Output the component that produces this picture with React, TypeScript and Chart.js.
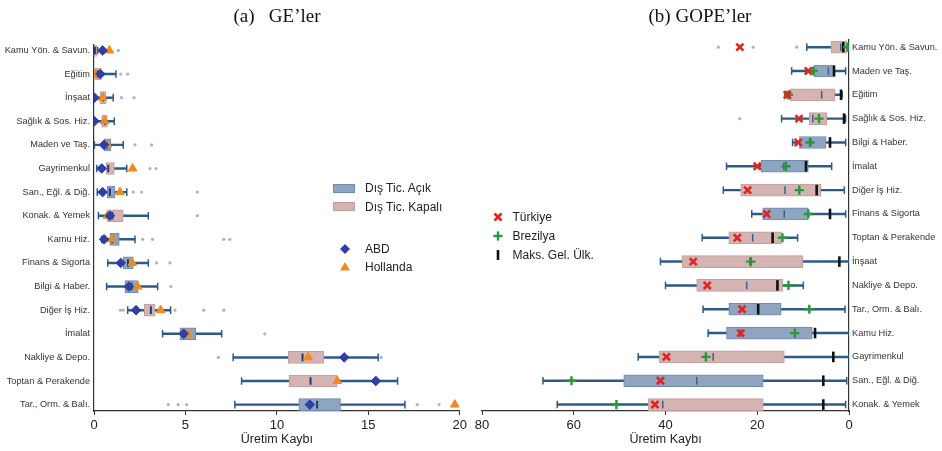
import React, { useEffect, useRef } from 'react';
import { Chart, registerables } from 'chart.js';

Chart.register(...registerables);

const SANS = "'Liberation Sans', Arial, Helvetica, sans-serif";
const SERIF = "'Liberation Serif', 'Times New Roman', Times, serif";

// ---------------- (a) GE'ler ----------------
const geCategories = [
  'Kamu Yön. & Savun.', 'Eğitim', 'İnşaat', 'Sağlık & Sos. Hiz.', 'Maden ve Taş.', 'Gayrimenkul',
  'San., Eğl. & Diğ.', 'Konak. & Yemek', 'Kamu Hiz.', 'Finans & Sigorta', 'Bilgi & Haber.',
  'Diğer İş Hiz.', 'İmalat', 'Nakliye & Depo.', 'Toptan & Perakende', 'Tar., Orm. & Balı.',
];
// A = Dış Tic. Açık, K = Dış Tic. Kapalı
const geTrade = ['K', 'K', 'K', 'K', 'A', 'K', 'A', 'K', 'A', 'A', 'A', 'K', 'A', 'K', 'K', 'A'];
const geQ1 = [0.0, 0.05, 0.33, 0.42, 0.55, 0.66, 0.73, 0.73, 0.87, 1.6, 1.69, 2.75, 4.7, 10.62, 10.66, 11.2];
const geQ3 = [0.15, 0.4, 0.65, 0.73, 0.91, 1.11, 1.15, 1.6, 1.38, 2.15, 2.42, 3.33, 5.57, 12.57, 13.3, 13.48];
const geMedian = [0.05, 0.2, 0.5, 0.6, 0.72, 0.78, 0.87, 1.0, 1.0, 1.86, 2.05, 3.11, 5.0, 11.4, 11.84, 12.2];
const geWhiskerLow = [0.0, 0.0, 0.0, 0.02, 0.02, 0.15, 0.18, 0.24, 0.42, 0.75, 0.69, 1.84, 3.75, 7.61, 8.07, 7.7];
const geWhiskerHigh = [0.2, 1.2, 1.05, 1.11, 1.6, 1.79, 1.79, 2.97, 2.24, 2.97, 3.48, 4.19, 6.98, 15.54, 16.6, 17.0];
const geABD = [0.47, 0.35, 0.02, 0.02, 0.55, 0.42, 0.47, 0.87, 0.55, 1.46, 1.91, 2.3, 4.9, 13.68, 15.41, 11.8];
const geHollanda = [0.84, 0.05, 0.47, 0.58, 0.72, 2.11, 1.42, 0.73, 0.97, 2.09, 2.39, 3.64, 5.12, 11.71, 13.3, 19.73];
// [category index, value]
const geOutliers: [number, number][] = [
  [0, 1.33], [1, 1.46], [1, 1.84], [2, 1.5], [2, 2.19], [4, 2.24], [4, 3.15], [5, 3.06], [5, 3.39],
  [6, 2.15], [6, 2.6], [6, 5.65], [7, 5.65], [8, 2.66], [8, 3.2], [8, 7.1], [8, 7.43], [9, 3.42], [9, 4.15],
  [10, 4.2], [11, 1.45], [11, 1.6], [11, 4.43], [11, 6.0], [11, 7.1], [12, 9.34], [13, 6.8], [13, 15.7],
  [15, 4.06], [15, 4.6], [15, 5.07], [15, 17.67], [15, 18.87],
];
const geTicks = [0, 5, 10, 15, 20];

// ---------------- (b) GOPE'ler ----------------
const gopeCategories = [
  'Kamu Yön. & Savun.', 'Maden ve Taş.', 'Eğitim', 'Sağlık & Sos. Hiz.', 'Bilgi & Haber.', 'İmalat',
  'Diğer İş Hiz.', 'Finans & Sigorta', 'Toptan & Perakende', 'İnşaat', 'Nakliye & Depo.',
  'Tar., Orm. & Balı.', 'Kamu Hiz.', 'Gayrimenkul', 'San., Eğl. & Diğ.', 'Konak. & Yemek',
];
const gopeTrade = ['K', 'A', 'K', 'K', 'A', 'A', 'K', 'A', 'K', 'K', 'K', 'A', 'A', 'K', 'A', 'K'];
const gopeQ1 = [0.5, 3.05, 3.05, 4.87, 5.0, 8.87, 6.18, 8.87, 14.7, 10.1, 14.47, 14.8, 8.0, 14.1, 18.7, 18.7];
const gopeQ3 = [3.93, 7.56, 12.87, 8.65, 10.8, 19.2, 23.6, 18.8, 26.2, 36.4, 33.2, 26.2, 26.7, 41.4, 49.1, 43.8];
const gopeMedian = [1.8, 4.5, 5.96, 7.9, 8.3, 14.2, 13.96, 14.1, 21.0, 21.6, 22.3, 19.9, 23.6, 29.6, 33.2, 40.6];
const gopeWhiskerLow = [0.3, 0.73, 1.5, 0.73, 0.73, 3.78, 1.02, 0.73, 11.2, 0.0, 9.96, 0.87, 0.0, 0.0, 0.5, 0.73];
const gopeWhiskerHigh = [9.2, 12.5, 13.6, 14.7, 12.3, 26.7, 27.4, 21.2, 32.0, 41.1, 40.0, 31.8, 30.7, 45.95, 66.7, 63.6];
const gopeTurkiye = [23.8, 8.87, 13.45, 10.9, 11.05, 20.0, 22.1, 17.95, 24.35, 33.96, 30.9, 23.3, 23.6, 39.8, 41.1, 42.3];
const gopeBrezilya = [0.3, 7.78, 13.2, 6.54, 8.5, 13.74, 10.84, 8.87, 14.5, 21.4, 13.2, 8.65, 11.8, 31.2, 60.5, 50.7];
const gopeMaks = [1.24, 3.27, 1.74, 1.09, 4.14, 9.38, 7.05, 4.14, 16.65, 2.1, 15.6, 19.8, 7.4, 3.42, 5.6, 5.6];
const gopeOutliers: [number, number][] = [[0, 28.5], [0, 20.9], [0, 11.4], [3, 23.8]];
const gopeTicks = [0, 20, 40, 60, 80];

// ---------------- styles ----------------
const OPEN_FILL = '#8fa4bf';
const OPEN_BORDER = '#6d8bb0';
const CLOSED_FILL = '#d4b3b3';
const CLOSED_BORDER = '#c39c9c';
const WHISKER = '#2e5a88';
const OUTLIER = '#b3b3b3';
const ABD_COLOR = '#2f3fa6';
const HOL_COLOR = '#f08a1e';
const TR_COLOR = '#e3231d';
const BR_COLOR = '#27993a';
const MAKS_COLOR = '#111111';

type Marker = { label: string; values: number[]; style: any; order: number };

function pointsOf(values: number[]) {
  return values.map((v, i) => ({ x: v, y: i }));
}

function buildConfig(opts: {
  cats: string[]; trade: string[]; q1: number[]; q3: number[]; med: number[];
  wlo: number[]; whi: number[]; outliers: [number, number][]; markers: Marker[];
  medianColor: string; medianWidth: number; xMax: number; xTicks: number[]; reverseX: boolean;
  yMin: number; yMax: number; yPos: 'left' | 'right'; yWidth: number; padding: any;
}) {
  const { cats, trade, q1, q3, med, wlo, whi, outliers, markers } = opts;
  const idx = cats.map((_, i) => i);
  const datasets: any[] = [
    {
      type: 'bar', label: 'whisker',
      data: idx.map((i) => ({ x: [wlo[i], whi[i]], y: i })),
      backgroundColor: WHISKER, borderWidth: 0, barThickness: 1.8, grouped: false, order: 20,
    },
    {
      type: 'scatter', label: 'caps',
      data: [...pointsOf(wlo), ...pointsOf(whi)],
      pointStyle: 'line', pointRotation: 90, pointRadius: 3.8, borderColor: WHISKER, borderWidth: 1.5,
      backgroundColor: WHISKER, order: 19,
    },
    {
      type: 'bar', label: 'Dış Tic. Açık',
      data: idx.filter((i) => trade[i] === 'A').map((i) => ({ x: [q1[i], q3[i]], y: i })),
      backgroundColor: OPEN_FILL, borderColor: OPEN_BORDER, borderWidth: 1, borderSkipped: false,
      barThickness: 12, grouped: false, order: 18,
    },
    {
      type: 'bar', label: 'Dış Tic. Kapalı',
      data: idx.filter((i) => trade[i] === 'K').map((i) => ({ x: [q1[i], q3[i]], y: i })),
      backgroundColor: CLOSED_FILL, borderColor: CLOSED_BORDER, borderWidth: 1, borderSkipped: false,
      barThickness: 12, grouped: false, order: 17,
    },
    {
      type: 'scatter', label: 'median',
      data: pointsOf(med),
      pointStyle: 'line', pointRotation: 90, pointRadius: 3.8, borderColor: opts.medianColor,
      backgroundColor: opts.medianColor, borderWidth: opts.medianWidth, order: 16,
    },
    {
      type: 'scatter', label: 'outliers',
      data: outliers.map(([c, v]) => ({ x: v, y: c })),
      pointStyle: 'circle', pointRadius: 1.6, backgroundColor: OUTLIER, borderWidth: 0, order: 15,
    },
    ...markers.map((m) => ({
      type: 'scatter', label: m.label, data: pointsOf(m.values), order: m.order, ...m.style,
    })),
  ];

  return {
    type: 'bar',
    data: { datasets },
    options: {
      indexAxis: 'y',
      responsive: false,
      animation: false,
      events: [],
      layout: { padding: opts.padding },
      plugins: { legend: { display: false }, tooltip: { enabled: false }, title: { display: false } },
      scales: {
        x: {
          type: 'linear', position: 'bottom', min: 0, max: opts.xMax, reverse: opts.reverseX, offset: false,
          afterBuildTicks: (s: any) => { s.ticks = opts.xTicks.map((v) => ({ value: v })); },
          afterFit: (s: any) => { s.height = 40; },
          ticks: { font: { family: SANS, size: 13 }, color: '#222', padding: 3, maxRotation: 0 },
          grid: { display: true, drawOnChartArea: false, drawTicks: true, tickLength: 4, color: '#333', lineWidth: 1, offset: false },
          border: { display: true, color: '#333', width: 1.2 },
          title: {
            display: true, text: 'Üretim Kaybı', color: '#222',
            font: { family: SANS, size: 12.5 }, padding: { top: 0, bottom: 3.5 },
          },
        },
        y: {
          type: 'linear', position: opts.yPos, min: opts.yMin, max: opts.yMax, reverse: true, offset: false,
          afterBuildTicks: (s: any) => { s.ticks = cats.map((_, i) => ({ value: i })); },
          afterFit: (s: any) => { s.width = opts.yWidth; },
          ticks: {
            autoSkip: false, padding: opts.yPos === 'left' ? 4 : 3, color: '#333',
            font: { family: SANS, size: 9.2 },
            callback: (v: any) => cats[v as number],
          },
          grid: { display: false, drawTicks: false, offset: false },
          border: { display: true, color: '#333', width: 1.2 },
        },
      },
    },
  };
}

const geConfig = buildConfig({
  cats: geCategories, trade: geTrade, q1: geQ1, q3: geQ3, med: geMedian,
  wlo: geWhiskerLow, whi: geWhiskerHigh, outliers: geOutliers,
  markers: [
    { label: 'Hollanda', values: geHollanda, order: 2,
      style: { pointStyle: 'triangle', pointRadius: 5, backgroundColor: HOL_COLOR, borderColor: HOL_COLOR, borderWidth: 1 } },
    { label: 'ABD', values: geABD, order: 1,
      style: { pointStyle: 'rectRot', pointRadius: 4.8, backgroundColor: ABD_COLOR, borderColor: ABD_COLOR, borderWidth: 1 } },
  ],
  medianColor: '#1f3a6e', medianWidth: 2, xMax: 20, xTicks: geTicks, reverseX: false,
  yMin: -0.23, yMax: 15.27, yPos: 'left', yWidth: 94,
  padding: { left: 0, right: 10, top: 45, bottom: 0 },
});

const gopeConfig = buildConfig({
  cats: gopeCategories, trade: gopeTrade, q1: gopeQ1, q3: gopeQ3, med: gopeMedian,
  wlo: gopeWhiskerLow, whi: gopeWhiskerHigh, outliers: gopeOutliers,
  markers: [
    { label: 'Maks. Gel. Ülk.', values: gopeMaks, order: 3,
      style: { pointStyle: 'line', pointRotation: 90, pointRadius: 5.3, borderColor: MAKS_COLOR, backgroundColor: MAKS_COLOR, borderWidth: 2.6 } },
    { label: 'Brezilya', values: gopeBrezilya, order: 2,
      style: { pointStyle: 'cross', pointRadius: 4.6, borderColor: BR_COLOR, backgroundColor: BR_COLOR, borderWidth: 2.4 } },
    { label: 'Türkiye', values: gopeTurkiye, order: 1,
      style: { pointStyle: 'crossRot', pointRadius: 5, borderColor: TR_COLOR, backgroundColor: TR_COLOR, borderWidth: 2.6 } },
  ],
  medianColor: '#3e5f8e', medianWidth: 1.5, xMax: 80, xTicks: gopeTicks, reverseX: true,
  yMin: -0.3, yMax: 15.27, yPos: 'right', yWidth: 93,
  padding: { left: 12, right: 0, top: 40, bottom: 0 },
});

function ChartCanvas({ config, left, width }: { config: any; left: number; width: number }) {
  const ref = useRef<HTMLCanvasElement>(null);
  useEffect(() => {
    const chart = new Chart(ref.current as HTMLCanvasElement, config);
    return () => chart.destroy();
  }, [config]);
  return (
    <canvas
      ref={ref}
      width={width}
      height={451}
      style={{ position: 'absolute', left, top: 0, width, height: 451 }}
    />
  );
}

const legendText: React.CSSProperties = {
  position: 'absolute', fontFamily: SANS, fontSize: 12, color: '#222', lineHeight: '14px', whiteSpace: 'nowrap',
};

function LegendItem({ x, y, textX, label, icon }: { x: number; y: number; textX: number; label: string; icon: React.ReactNode }) {
  return (
    <>
      <svg style={{ position: 'absolute', left: x - 8, top: y - 8 }} width={16} height={16} viewBox="-8 -8 16 16">
        {icon}
      </svg>
      <div style={{ ...legendText, left: textX, top: y - 7 }}>{label}</div>
    </>
  );
}

export default function App() {
  return (
    <div style={{ position: 'absolute', left: 0, top: 0, width: 942, height: 451, background: '#fff', overflow: 'hidden' }}>
      <ChartCanvas config={geConfig} left={0} width={470} />
      <ChartCanvas config={gopeConfig} left={470} width={472} />

      <div style={{ position: 'absolute', left: 177, width: 200, top: 5, textAlign: 'center', fontFamily: SERIF, fontSize: 19, whiteSpace: 'pre', color: '#111' }}>
        {'(a)   GE’ler'}
      </div>
      <div style={{ position: 'absolute', left: 600, width: 200, top: 5, textAlign: 'center', fontFamily: SERIF, fontSize: 19, whiteSpace: 'pre', color: '#111' }}>
        {'(b) GOPE’ler'}
      </div>

      {/* legend: trade boxes */}
      <div style={{ position: 'absolute', left: 333, top: 183.5, width: 22, height: 9, background: OPEN_FILL, border: `1px solid ${OPEN_BORDER}`, boxSizing: 'border-box' }} />
      <div style={{ ...legendText, left: 365, top: 181 }}>Dış Tic. Açık</div>
      <div style={{ position: 'absolute', left: 333, top: 202, width: 22, height: 9, background: CLOSED_FILL, border: `1px solid ${CLOSED_BORDER}`, boxSizing: 'border-box' }} />
      <div style={{ ...legendText, left: 365, top: 199.5 }}>Dış Tic. Kapalı</div>

      {/* legend: GE countries */}
      <LegendItem x={345} y={249} textX={365} label="ABD"
        icon={<polygon points="0,-5 5,0 0,5 -5,0" fill={ABD_COLOR} />} />
      <LegendItem x={345} y={266.5} textX={365} label="Hollanda"
        icon={<polygon points="0,-5 5,3.5 -5,3.5" fill={HOL_COLOR} />} />

      {/* legend: GOPE countries */}
      <LegendItem x={498} y={217} textX={512.5} label="Türkiye"
        icon={<g stroke={TR_COLOR} strokeWidth={2.6}><line x1={-3.5} y1={-3.5} x2={3.5} y2={3.5} /><line x1={-3.5} y1={3.5} x2={3.5} y2={-3.5} /></g>} />
      <LegendItem x={498} y={236} textX={512.5} label="Brezilya"
        icon={<g stroke={BR_COLOR} strokeWidth={2.4}><line x1={-4.6} y1={0} x2={4.6} y2={0} /><line x1={0} y1={-4.6} x2={0} y2={4.6} /></g>} />
      <LegendItem x={498} y={255} textX={512.5} label="Maks. Gel. Ülk."
        icon={<line x1={0} y1={-5} x2={0} y2={5} stroke={MAKS_COLOR} strokeWidth={2.6} />} />
    </div>
  );
}
